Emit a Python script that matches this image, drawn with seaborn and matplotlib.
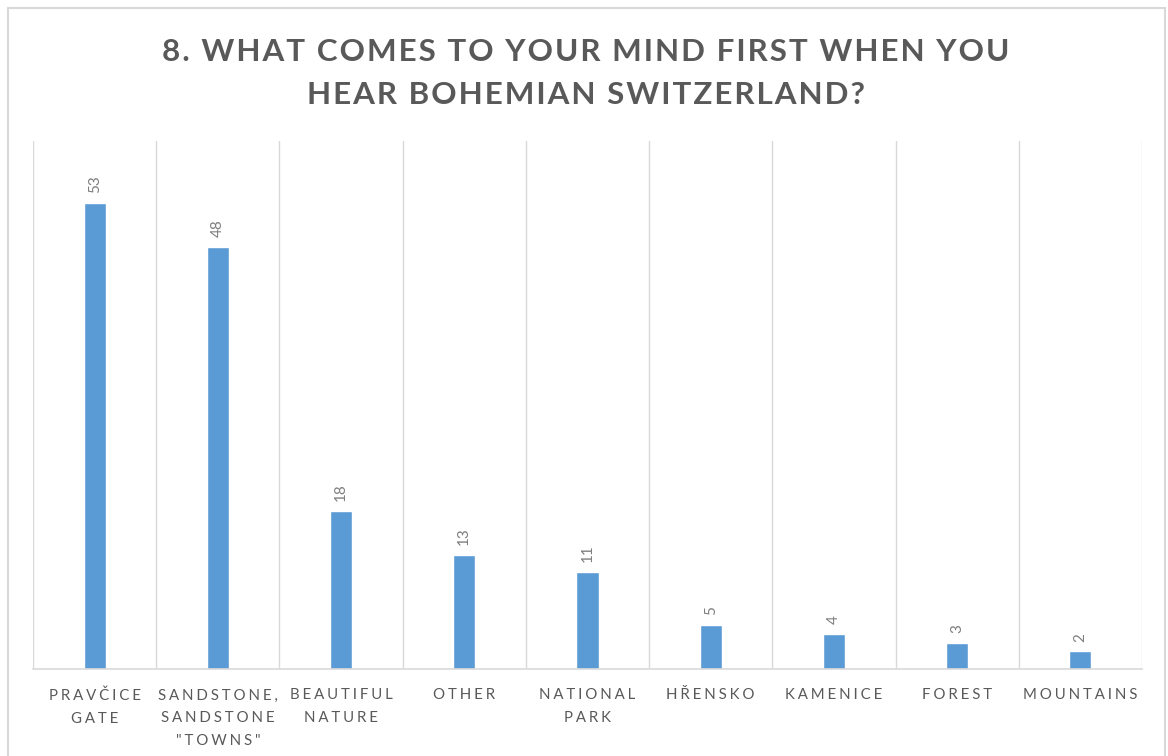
import matplotlib
matplotlib.use("Agg")
import matplotlib.pyplot as plt
from matplotlib.patches import Rectangle
import seaborn as sns
import pandas as pd

categories = ["PRAVČICE\nGATE", "SANDSTONE,\nSANDSTONE\n\"TOWNS\"", "BEAUTIFUL\nNATURE",
              "OTHER", "NATIONAL\nPARK", "HŘENSKO", "KAMENICE", "FOREST", "MOUNTAINS"]
counts = [53, 48, 18, 13, 11, 5, 4, 3, 2]
title_lines = ["8. WHAT COMES TO YOUR MIND FIRST WHEN YOU", "HEAR BOHEMIAN SWITZERLAND?"]

BAR = "#5B9BD5"
TEXT = "#595959"
GRID = "#D9D9D9"
FAM = ["Lato", "DejaVu Sans"]


def spaced(s, gap="\u2009"):
    # widen letter spacing by inserting thin spaces between characters
    return "\n".join(gap.join(line) for line in s.split("\n"))


sns.set_theme(style="white")
plt.rcParams["font.family"] = FAM

fig = plt.figure(figsize=(11.68, 7.56), dpi=100)
W, H = 1168, 756

# chart frame
fig.patches.append(Rectangle((8 / W, -0.05), (1165 - 8) / W, (756 - 8) / H + 0.05,
                             transform=fig.transFigure, fill=False,
                             edgecolor=GRID, linewidth=1.5))

ax = fig.add_axes([33 / W, (H - 669) / H, (1142 - 33) / W, (669 - 141) / H])
df = pd.DataFrame({"category": categories, "count": counts})
sns.barplot(data=df, x="category", y="count", color=BAR, width=0.18,
            saturation=1, ax=ax)

ax.set_ylim(0, 60)
ax.set_xlim(-0.5, len(categories) - 0.5)
for i in range(len(categories) + 1):
    ax.axvline(i - 0.5, color=GRID, linewidth=1, zorder=0)
for s in ["top", "left", "right"]:
    ax.spines[s].set_visible(False)
ax.spines["bottom"].set_color(GRID)
ax.spines["bottom"].set_linewidth(1.2)
ax.set_yticks([])
ax.set_xlabel("")
ax.set_ylabel("")
ax.set_xticks(range(len(categories)))
ax.set_xticklabels([spaced(c, "\u2009\u200a") for c in categories], color=TEXT,
                   fontsize=10.8, linespacing=1.8, va="top")
ax.tick_params(axis="x", length=0, pad=14)

for cont in ax.containers:
    ax.bar_label(cont, labels=[str(v) for v in counts], rotation=90,
                 padding=7, color="#7F7F7F", fontsize=11)

fig.text(586 / W, 1 - 52 / H, spaced(title_lines[0], "\u200a"), ha="center", va="center",
         fontsize=22.6, fontweight="bold", color=TEXT)
fig.text(586 / W, 1 - 95 / H, spaced(title_lines[1], "\u200a"), ha="center", va="center",
         fontsize=22.6, fontweight="bold", color=TEXT)

fig.savefig("out.png", dpi=100, facecolor="white")
